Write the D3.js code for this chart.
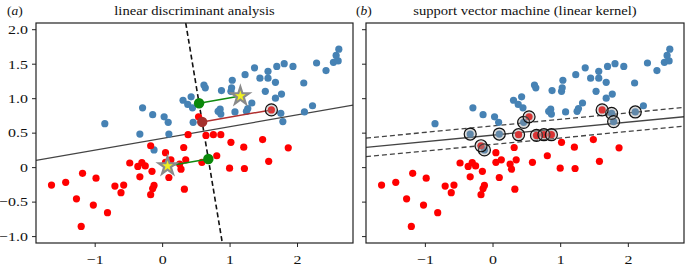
<!DOCTYPE html>
<html>
<head>
<meta charset="utf-8">
<script src="https://cdn.jsdelivr.net/npm/d3@7"></script>
<style>
  body { margin: 0; background: #fff; }
  svg text { font-family: "Liberation Serif", "DejaVu Serif", serif; }
</style>
</head>
<body>
<svg width="688" height="268"></svg>
<script>
// points, same data in both panels
const bluePoints = [
  [-0.85, 0.63], [-0.29, 0.86], [-0.14, 0.76], [0.03, 0.73], [0.09, 0.65],
  [-0.33, 0.48], [0.10, 0.48], [0.31, 0.97], [0.43, 1.02], [0.38, 0.91],
  [0.45, 0.86], [0.46, 0.65], [0.62, 1.19], [0.64, 1.15], [0.88, 1.11],
  [1.02, 1.10], [1.03, 1.15], [1.04, 1.26], [1.23, 1.34], [1.37, 1.44],
  [1.45, 1.29], [1.57, 1.39], [1.57, 1.29], [1.68, 1.23], [1.70, 1.46],
  [1.81, 1.50], [1.94, 1.46], [1.53, 1.10], [1.68, 1.00], [1.77, 1.06],
  [1.33, 0.93], [1.27, 0.85], [1.25, 0.81], [1.08, 0.80], [0.83, 0.81],
  [0.86, 0.84], [0.87, 0.77], [1.76, 0.78], [1.79, 0.66], [2.10, 1.22],
  [2.11, 0.80], [2.23, 0.89], [2.29, 1.51], [2.43, 1.40], [2.54, 1.52],
  [2.61, 1.54], [2.58, 1.62], [2.62, 1.71], [-0.12, 0.25]
];
const redPoints = [
  [-1.64, -0.26], [-1.43, -0.22], [-1.18, -0.09], [-0.98, -0.16], [-1.27, -0.46],
  [-1.02, -0.55], [-0.81, -0.66], [-1.20, -0.86], [-0.70, -0.275], [-0.57, -0.26],
  [-0.61, -0.37], [-0.48, 0.06], [-0.36, 0.01], [-0.30, 0.065], [-0.25, 0.017],
  [-0.33, -0.14], [-0.15, -0.06], [-0.12, -0.265], [-0.14, -0.31], [-0.17, -0.40],
  [-0.17, 0.31], [0.05, 0.21], [0.05, 0.07], [0.13, 0.106], [0.10, -0.15],
  [0.32, 0.285], [0.35, 0.106], [0.26, 0.045], [0.28, -0.03], [0.33, -0.32],
  [0.385, 0.47], [0.65, 0.46], [0.76, 0.47], [0.87, 0.47], [0.54, 0.73],
  [0.59, 0.07], [0.81, 0.165], [1.00, -0.015], [1.22, -0.02], [1.02, 0.36],
  [1.21, 0.29], [1.49, 0.40], [1.87, 0.28], [1.58, 0.085], [1.62, 0.83]
];
// support vectors (indices into the arrays above)
const blueSupport = [5, 6, 11, 37, 38, 40, 48];
const redSupport = [20, 30, 31, 32, 33, 34, 44];
// LDA: class means, discriminant axis, the projected example point
const classMeans = [[1.16, 1.03], [0.08, 0.015]];
const ldaAxis = { x0: 0.617, y0: 0.52, slope: -5.88 };
const ldaExample = 44;
// SVM line y = intercept + slope*x, margins +-margin
const svmLine = { intercept: 0.463, slope: 0.0945, margin: 0.135 };

const xTicks = [-1, 0, 1, 2];
const yTicks = [-1.0, -0.5, 0, 0.5, 1.0, 1.5, 2.0];
const yTickLabels = ["\u22121.0", "\u22120.5", "0", "0.5", "1.0", "1.5", "2.0"];
const titles = ["linear discriminant analysis", "support vector machine (linear kernel)"];
const panelLetters = ["a", "b"];

const xDomain = [-1.87, 2.83];
const yDomain = [-1.10, 2.09];
const panels = [{ left: 36, right: 353, labelX: 7 }, { left: 366, right: 684, labelX: 356 }];
const plotTop = 23, plotBottom = 243;
const blue = "#4682b4", red = "#ff0000";

const svg = d3.select("svg");

// the reference text is a bit wider than the font, so stretch it
function stretch(sel, factor) {
  sel.each(function() {
    let w = this.getComputedTextLength();
    if (w > 0) d3.select(this).attr("textLength", w * factor).attr("lengthAdjust", "spacingAndGlyphs");
  });
}

panels.forEach((p, i) => {
  const xScale = d3.scaleLinear().domain(xDomain).range([p.left, p.right]);
  const yScale = d3.scaleLinear().domain(yDomain).range([plotBottom, plotTop]);

  const g = svg.append("g");
  g.append("clipPath").attr("id", "clip" + i)
    .append("rect")
    .attr("x", p.left).attr("y", plotTop)
    .attr("width", p.right - p.left).attr("height", plotBottom - plotTop);

  // axes
  let xAxis = d3.axisBottom(xScale).tickValues(xTicks).tickSize(4).tickPadding(7)
    .tickFormat(d => d3.format("")(d).replace("-", "\u2212"));
  let yAxis = d3.axisLeft(yScale).tickValues(yTicks).tickSize(4).tickPadding(4)
    .tickFormat((d, k) => i == 0 ? yTickLabels[k] : "");
  g.append("g").attr("transform", `translate(0,${plotBottom})`).call(xAxis);
  g.append("g").attr("transform", `translate(${p.left},0)`).call(yAxis);
  g.selectAll(".domain").remove();
  g.selectAll(".tick line").attr("stroke", "#222").attr("stroke-width", 1);
  g.selectAll(".tick text").attr("font-size", 13.5).attr("fill", "#111")
    .attr("font-family", "Liberation Serif");
  stretch(g.selectAll(".tick text"), 1.18);

  const plot = g.append("g").attr("clip-path", `url(#clip${i})`);
  const line = d3.line().x(d => xScale(d[0])).y(d => yScale(d[1]));

  if (i == 0) {
    // discriminant axis (dashed) and decision boundary (perpendicular)
    const ax = y => ldaAxis.x0 + (y - ldaAxis.y0) / ldaAxis.slope;
    plot.append("path")
      .attr("d", line([[ax(yDomain[1]), yDomain[1]], [ax(yDomain[0]), yDomain[0]]]))
      .attr("stroke", "#111").attr("stroke-width", 1.6)
      .attr("stroke-dasharray", "5,3").attr("fill", "none");

    const n = Math.hypot(1, ldaAxis.slope);
    const u = [1 / n, ldaAxis.slope / n];
    const project = pt => {
      let t = (pt[0] - ldaAxis.x0) * u[0] + (pt[1] - ldaAxis.y0) * u[1];
      return [ldaAxis.x0 + t * u[0], ldaAxis.y0 + t * u[1]];
    };
    const proj = classMeans.map(project);
    const mid = [(proj[0][0] + proj[1][0]) / 2, (proj[0][1] + proj[1][1]) / 2];
    const bs = -1 / ldaAxis.slope;
    plot.append("path")
      .attr("d", line(xDomain.map(x => [x, mid[1] + bs * (x - mid[0])])))
      .attr("stroke", "#444").attr("stroke-width", 1.3).attr("fill", "none");

    drawPoints(plot, xScale, yScale);

    // the example red point and its projection
    const ex = redPoints[ldaExample];
    const exProj = project(ex);
    plot.append("path").attr("d", line([ex, exProj]))
      .attr("stroke", "#b03030").attr("stroke-width", 1.5).attr("fill", "none");
    plot.append("circle").attr("cx", xScale(ex[0])).attr("cy", yScale(ex[1])).attr("r", 6)
      .attr("fill", "rgba(150,150,150,0.35)").attr("stroke", "#111").attr("stroke-width", 1.2);
    plot.append("circle").attr("cx", xScale(exProj[0])).attr("cy", yScale(exProj[1])).attr("r", 5.2)
      .attr("fill", "#a5302d");

    // means, projection lines, projected means
    classMeans.forEach((m, k) => {
      plot.append("path").attr("d", line([m, proj[k]]))
        .attr("stroke", "#108a10").attr("stroke-width", 1.5).attr("fill", "none");
    });
    plot.selectAll("circle.pm").data(proj).join("circle").attr("class", "pm")
      .attr("cx", d => xScale(d[0])).attr("cy", d => yScale(d[1])).attr("r", 5.2)
      .attr("fill", "#0a880a");
    plot.selectAll("path.star").data(classMeans).join("path").attr("class", "star")
      .attr("d", d3.symbol().type(d3.symbolStar).size(95))
      .attr("transform", d => `translate(${xScale(d[0])},${yScale(d[1])})`)
      .attr("fill", "#f0f020").attr("stroke", "#8a8a8a").attr("stroke-width", 2.2)
      .attr("stroke-linejoin", "miter");
  } else {
    // SVM boundary and margins
    [0, 1, -1].forEach(s => {
      plot.append("path")
        .attr("d", line(xDomain.map(x => [x, svmLine.intercept + svmLine.slope * x + s * svmLine.margin])))
        .attr("stroke", "#444").attr("stroke-width", 1.3).attr("fill", "none")
        .attr("stroke-dasharray", s == 0 ? null : "5,3");
    });
    drawPoints(plot, xScale, yScale);
    let sv = blueSupport.map(k => bluePoints[k]).concat(redSupport.map(k => redPoints[k]));
    plot.selectAll("circle.sv").data(sv).join("circle").attr("class", "sv")
      .attr("cx", d => xScale(d[0])).attr("cy", d => yScale(d[1])).attr("r", 6)
      .attr("fill", "rgba(150,150,150,0.35)").attr("stroke", "#111").attr("stroke-width", 1.2);
  }

  // frame
  g.append("rect").attr("x", p.left).attr("y", plotTop)
    .attr("width", p.right - p.left).attr("height", plotBottom - plotTop)
    .attr("fill", "none").attr("stroke", "#222").attr("stroke-width", 1.2);

  // title
  const cx = (p.left + p.right) / 2;
  let title = g.append("text").attr("x", cx).attr("y", 15).attr("text-anchor", "middle")
    .attr("font-size", 13.5).attr("fill", "#111").text(titles[i]);
  stretch(title, 1.08);
  const lab = g.append("text").attr("x", p.labelX).attr("y", 15)
    .attr("font-size", 13.5).attr("fill", "#111");
  lab.append("tspan").text("(");
  lab.append("tspan").attr("font-style", "italic").text(panelLetters[i]);
  lab.append("tspan").text(")");
});

function drawPoints(plot, xScale, yScale) {
  plot.append("g").selectAll("circle").data(bluePoints).join("circle")
    .attr("cx", d => xScale(d[0])).attr("cy", d => yScale(d[1])).attr("r", 3.6)
    .attr("fill", blue);
  plot.append("g").selectAll("circle").data(redPoints).join("circle")
    .attr("cx", d => xScale(d[0])).attr("cy", d => yScale(d[1])).attr("r", 3.6)
    .attr("fill", red);
}
</script>
</body>
</html>
